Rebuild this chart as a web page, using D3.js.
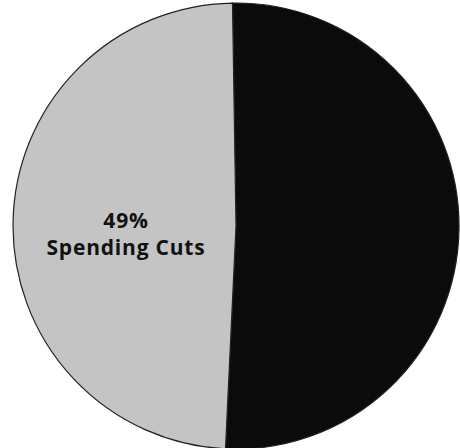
<!DOCTYPE html>
<html>
<head>
<meta charset="utf-8">
<script src="https://cdn.jsdelivr.net/npm/d3@7"></script>
<style>
  html, body { margin: 0; padding: 0; background: #fff; }
  svg { display: block; }
</style>
</head>
<body>
<svg id="chart" width="460" height="448"></svg>
<script>
const categories = ["Tax Increases", "Spending Cuts"];
const values = [51, 49];
const labels = ["", "49%"];
const colors = ["#0b0b0b", "#c4c4c4"];

const svg = d3.select("#chart");
const cx = 236, cy = 226, r = 223;
const g = svg.append("g").attr("transform", `translate(${cx},${cy})`);

const data = categories.map((c, i) => ({ category: c, value: values[i], label: labels[i], color: colors[i] }));

const pie = d3.pie().sort(null).value(d => d.value)
  .startAngle(-0.9 * Math.PI / 180)
  .endAngle(2 * Math.PI - 0.9 * Math.PI / 180);
const arc = d3.arc().innerRadius(0).outerRadius(r);

const arcs = pie(data);
g.selectAll("path.slice").data(arcs).join("path")
  .attr("class", "slice")
  .attr("d", arc)
  .attr("fill", d => d.data.color)
  .attr("stroke", "#222")
  .attr("stroke-width", 1.2);

// label for Spending Cuts slice
const sc = arcs[1];
const lx = 126 - cx;
[[sc.data.label, 228], [sc.data.category, 255]].forEach(([t, y]) => {
  g.append("text")
    .attr("x", lx).attr("y", y - cy)
    .attr("text-anchor", "middle")
    .attr("font-family", "Open Sans, sans-serif")
    .attr("font-weight", "bold")
    .attr("font-size", 21)
    .attr("letter-spacing", 0.8)
    .attr("fill", "#111")
    .text(t);
});
</script>
</body>
</html>
